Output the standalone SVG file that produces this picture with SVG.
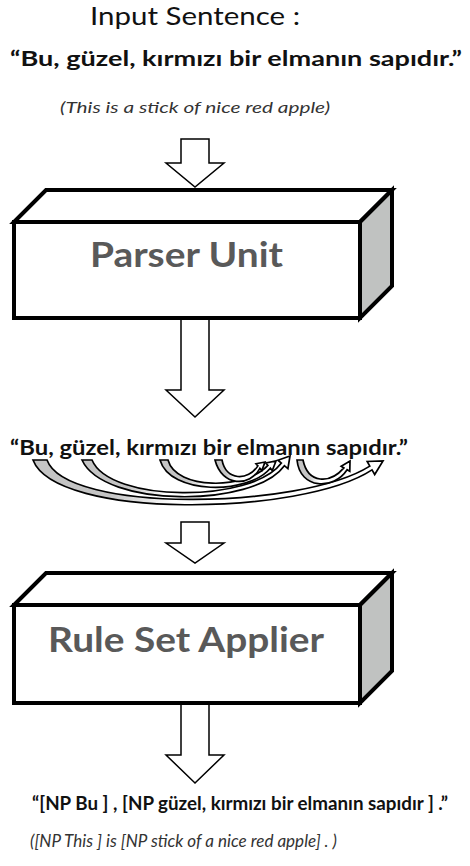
<svg xmlns="http://www.w3.org/2000/svg" width="470" height="866" viewBox="0 0 470 866">
<style>
.bg{fill:#fff}
.flow{fill:#fff;stroke:#000;stroke-width:1.5;stroke-linejoin:miter}
.face{fill:#fff;stroke:#000;stroke-width:4;stroke-linejoin:miter}
.side{fill:#c0c2c1;stroke:#000;stroke-width:4;stroke-linejoin:miter}
.dep{fill:url(#tailGrad);stroke:#000;stroke-width:1.7;stroke-linejoin:miter}
.title{font-family:Lato,"Open Sans",sans-serif;font-size:25px;fill:#111}
.sent{font-family:Lato,"Open Sans",sans-serif;font-weight:bold;font-size:21px;fill:#111}
.gloss{font-family:Lato,"Open Sans",sans-serif;font-style:italic;font-size:16px;fill:#333}
.unit{font-family:Lato,"Open Sans",sans-serif;font-weight:bold;font-size:34px;fill:#595959}
</style>
<defs>
<linearGradient id="tailGrad" x1="0" y1="0" x2="1" y2="0">
<stop offset="0" stop-color="#c4c4c4"/>
<stop offset="0.22" stop-color="#c4c4c4"/>
<stop offset="0.4" stop-color="#fff"/>
<stop offset="1" stop-color="#fff"/>
</linearGradient>
</defs>
<rect class="bg" x="0" y="0" width="470" height="866"/>

<g id="connectors">
<polygon class="flow" points="181,139 209,139 209,163 224,163 195,187 166,163 181,163"/>
<polygon class="flow" points="181,318 209,318 209,390 224,390 195,417 166,390 181,390"/>
<polygon class="flow" points="181,522 209,522 209,543 224,543 195,563 166,543 181,543"/>
<polygon class="flow" points="181,703 209,703 209,755 224,755 195,783 166,755 181,755"/>
</g>

<g id="input-sentence">
<text class="title" x="90" y="25" textLength="210" lengthAdjust="spacingAndGlyphs">Input Sentence :</text>
<text class="sent" x="10" y="66" textLength="452" lengthAdjust="spacingAndGlyphs">“Bu, güzel, kırmızı bir elmanın sapıdır.”</text>
<text class="gloss" x="60" y="113" textLength="270" lengthAdjust="spacingAndGlyphs">(This is a stick of nice red apple)</text>
</g>

<g id="parser-unit">
<polygon class="face" points="14,222 46,190 392,190 360,222"/>
<polygon class="side" points="360,222 392,190 392,286 360,318"/>
<rect class="face" x="14" y="222" width="346" height="96"/>
<text class="unit" x="90" y="267" textLength="193" lengthAdjust="spacingAndGlyphs">Parser Unit</text>
</g>

<g id="parsed-sentence">
<text class="sent" x="10" y="455" textLength="398" lengthAdjust="spacingAndGlyphs">“Bu, güzel, kırmızı bir elmanın sapıdır.”</text>
</g>

<g id="dependency-arcs">
<path class="dep" d="M33,460 L47,460 C66,513 300,510 369.8,466.1 L367.2,461.5 L383,461 L374.7,474.5 L372,469.9 C302,516 56,520 33,460 Z"/>
<path class="dep" d="M82,460 L92,460 C110,503 252,503 281.4,463.1 L277.9,460.2 L290,456 L287.9,468.6 L284.4,465.7 C254,508 104,508 82,460 Z"/>
<path class="dep" d="M160,460 L168,460 C176,490 245,490 267.9,465.4 L265.9,463 L276,461 L272.3,470.6 L270.3,468.2 C248,495 170,495 160,460 Z"/>
<path class="dep" d="M215,460 L222,460 C226,481 248,481 257.9,465.9 L256,463.7 L265,462 L261.8,470.5 L259.9,468.3 C250,487 222,487 215,460 Z"/>
<path class="dep" d="M297,460 L303,460 C308,484 330,484 343.9,467.9 L341.2,466.3 L350,461 L349.8,471.3 L347.1,469.7 C334,490 300,490 297,460 Z"/>
</g>

<g id="rule-set-applier">
<polygon class="face" points="14,605 46,573 392,573 360,605"/>
<polygon class="side" points="360,605 392,573 392,671 360,703"/>
<rect class="face" x="14" y="605" width="346" height="98"/>
<text class="unit" x="48" y="652" textLength="276" lengthAdjust="spacingAndGlyphs">Rule Set Applier</text>
</g>

<g id="output-sentence">
<text class="sent" style="font-size:18px" x="32" y="810" textLength="416" lengthAdjust="spacingAndGlyphs">“[NP Bu ] , [NP güzel, kırmızı bir elmanın sapıdır ] .”</text>
<text class="gloss" style="font-size:17px" x="30" y="847" textLength="307" lengthAdjust="spacingAndGlyphs">([NP This ] is [NP stick of a nice red apple] . )</text>
</g>
</svg>
